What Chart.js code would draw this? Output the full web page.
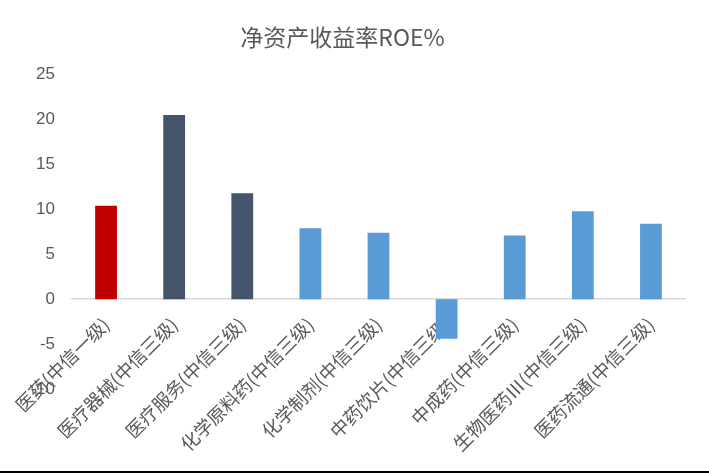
<!DOCTYPE html>
<html>
<head>
<meta charset="utf-8">
<script src="https://cdn.jsdelivr.net/npm/chart.js@4/dist/chart.umd.min.js"></script>
<style>
  html, body { margin: 0; padding: 0; background: #fff; }
  #wrap { width: 709px; height: 471px; border-bottom: 2px solid #000; position: relative; }
</style>
</head>
<body>
<div id="wrap"><canvas id="roeChart"></canvas></div>
<script>
// categories and ROE values
const categories = ['医药(中信一级)', '医疗器械(中信三级)', '医疗服务(中信三级)', '化学原料药(中信三级)',
    '化学制剂(中信三级)', '中药饮片(中信三级)', '中成药(中信三级)', '生物医药Ⅲ(中信三级)', '医药流通(中信三级)'];
const roeValues = [10.4, 20.5, 11.8, 7.9, 7.4, -4.4, 7.1, 9.8, 8.4];
const barColors = ['#C00000', '#44546A', '#44546A', '#5B9BD5', '#5B9BD5', '#5B9BD5', '#5B9BD5', '#5B9BD5', '#5B9BD5'];
const yTicks = [-10, -5, 0, 5, 10, 15, 20, 25];

const textGray = '#595959';
const cjk = '"Noto Sans CJK SC", "Noto Sans", sans-serif';

const ctx = document.getElementById('roeChart').getContext('2d');
const roeChart = new Chart(ctx, {
    type: 'bar',
    data: {
        labels: categories,
        datasets: [{
            label: '净资产收益率ROE%',
            data: roeValues,
            backgroundColor: barColors,
            borderWidth: 0,
            categoryPercentage: 1,
            barPercentage: 0.32
        }]
    },
    options: {
        responsive: true,
        maintainAspectRatio: false,
        animation: false,
        layout: { padding: { left: 0, right: 24, top: 0, bottom: 82 } },
        plugins: {
            legend: { display: false },
            tooltip: { enabled: false },
            title: {
                display: true,
                text: '净资产收益率ROE%',
                color: textGray,
                font: { family: cjk, size: 23, weight: 'normal' },
                padding: { top: 23, bottom: 24 }
            }
        },
        scales: {
            x: {
                position: { y: 0 },
                grid: { display: false, drawTicks: false },
                border: { display: true, color: '#D9D9D9', width: 1.5 },
                ticks: {
                    color: textGray,
                    font: { family: cjk, size: 18.5 },
                    minRotation: 45,
                    maxRotation: 45,
                    autoSkip: false,
                    padding: 14
                }
            },
            y: {
                min: -10,
                max: 25,
                afterBuildTicks: function (scale) {
                    scale.ticks = yTicks.map(v => ({ value: v }));
                },
                grid: { display: false, drawTicks: false },
                border: { display: false },
                ticks: {
                    color: textGray,
                    font: { family: 'Liberation Sans, sans-serif', size: 17 },
                    padding: 17
                },
                afterFit: function (scale) { scale.width = 72; }
            }
        }
    }
});
</script>
</body>
</html>
